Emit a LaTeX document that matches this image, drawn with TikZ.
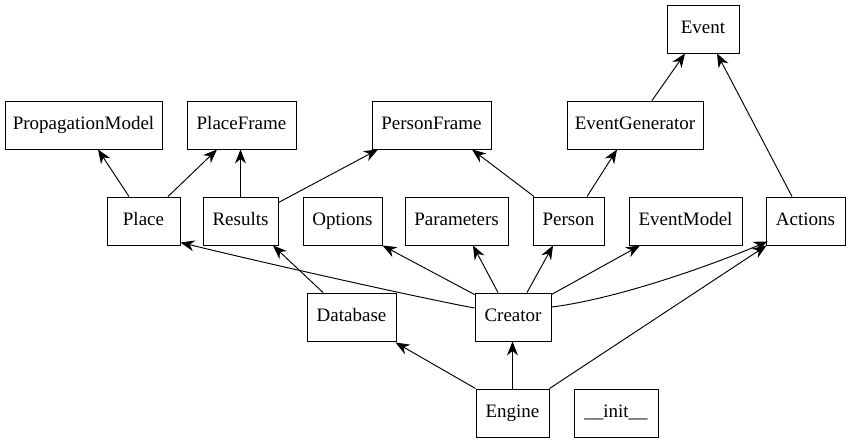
\documentclass[tikz,border=0pt]{standalone}
\usepackage{fontspec}
\setmainfont{Liberation Serif}
\usetikzlibrary{arrows.meta}
\begin{document}
\begin{tikzpicture}[x=1pt,y=-1pt,
  cls/.style={draw,line width=0.95pt,rectangle,inner sep=0pt,minimum height=48pt,
    text height=13pt,text depth=4pt,
    font=\fontsize{19}{21}\selectfont},
  dep/.style={line width=0.95pt,-{Stealth[length=14pt,width=11pt,inset=4.5pt]}}]
\useasboundingbox (0,0) rectangle (850,443);
% top
\node[cls,minimum width=72pt]  (Event) at (703,29) {Event};
% second row
\node[cls,minimum width=157pt] (PropagationModel) at (83.5,125) {PropagationModel};
\node[cls,minimum width=109pt] (PlaceFrame) at (241.5,125) {PlaceFrame};
\node[cls,minimum width=119pt] (PersonFrame) at (431.5,125) {PersonFrame};
\node[cls,minimum width=136pt] (EventGenerator) at (635,125) {EventGenerator};
% third row
\node[cls,minimum width=73pt]  (Place) at (143.5,221) {Place};
\node[cls,minimum width=75pt]  (Results) at (240.5,221) {Results};
\node[cls,minimum width=79pt]  (Options) at (342.5,221) {Options};
\node[cls,minimum width=103pt] (Parameters) at (456.5,221) {Parameters};
\node[cls,minimum width=71pt]  (Person) at (568.5,221) {Person};
\node[cls,minimum width=113pt] (EventModel) at (685.5,221) {EventModel};
\node[cls,minimum width=79pt]  (Actions) at (805.5,221) {Actions};
% fourth row
\node[cls,minimum width=89pt]  (Database) at (351.5,317) {Database};
\node[cls,minimum width=76pt]  (Creator) at (513,317) {Creator};
% bottom
\node[cls,minimum width=73pt]  (Engine) at (512.5,413) {Engine};
\node[cls,minimum width=84pt]  (init) at (616,413) {\_\_init\_\_};
% edges
\draw[dep] ([xshift=17pt]EventGenerator.north) -- ([xshift=-18pt]Event.south);
\draw[dep] ([xshift=-13.5pt]Actions.north) -- ([xshift=14pt]Event.south);
\draw[dep] ([xshift=-14.5pt]Place.north) -- ([xshift=14.5pt]PropagationModel.south);
\draw[dep] ([xshift=24.5pt]Place.north) -- ([xshift=-24.5pt]PlaceFrame.south);
\draw[dep] (Results.north) -- (Results.north |- PlaceFrame.south);
\draw[dep] ([yshift=-6pt]Results.north east) -- ([xshift=-53.5pt]PersonFrame.south);
\draw[dep] ([xshift=1.5pt]Person.north west) -- ([xshift=40.5pt]PersonFrame.south);
\draw[dep] ([xshift=18.5pt]Person.north) -- ([xshift=-18pt]EventGenerator.south);
\draw[dep] ([xshift=-28.5pt]Database.north) -- ([xshift=32.5pt]Results.south);
\draw[dep] ([yshift=9pt]Creator.west) .. controls (420,298) and (260,262) .. ([yshift=3pt]Place.south east);
\draw[dep] ([yshift=-2pt]Creator.north west) -- (Options.south east);
\draw[dep] ([xshift=-15pt]Creator.north) -- ([xshift=16.5pt]Parameters.south);
\draw[dep] ([xshift=14pt]Creator.north) -- ([xshift=-15.5pt]Person.south);
\draw[dep] ([yshift=-2pt]Creator.north east) -- ([xshift=-45.5pt]EventModel.south);
\draw[dep] ([yshift=10pt]Creator.east) .. controls (610,300) and (700,270) .. ([xshift=2pt,yshift=4pt]Actions.south west);
\draw[dep] (Engine.north west) -- ([xshift=-1pt,yshift=-1pt]Database.south east);
\draw[dep] (Engine.north) -- (Engine.north |- Creator.south);
\draw[dep] (Engine.north east) -- ([xshift=1pt]Actions.south west);
\end{tikzpicture}
\end{document}
